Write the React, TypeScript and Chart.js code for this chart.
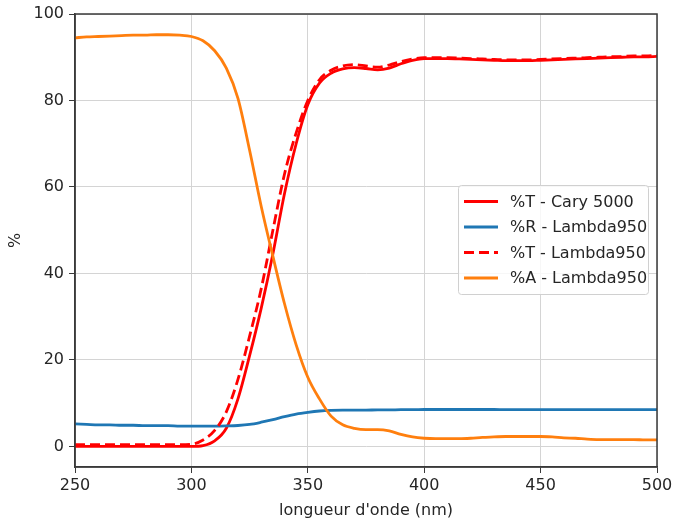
import { useEffect, useRef } from "react";
import { Chart, registerables } from "chart.js";

Chart.register(...registerables);

// wavelengths (nm)
const wavelengths = [
  250, 255, 260, 265, 270, 275, 280, 285, 290, 295,
  300, 305, 310, 315, 320, 325, 330, 335, 340, 345,
  350, 355, 360, 365, 370, 375, 380, 385, 390, 395,
  400, 405, 410, 415, 420, 425, 430, 435, 440, 445,
  450, 455, 460, 465, 470, 475, 480, 485, 490, 495, 500,
];

// %T - Cary 5000
const tCary = [
  0, 0, 0, 0, 0, 0, 0, 0, 0, 0,
  0, 0.2, 1.3, 4.2, 11, 21, 32, 44.5, 58.5, 70,
  79, 84, 86.3, 87.3, 87.6, 87.4, 87.1, 87.5, 88.5, 89.3,
  89.7, 89.7, 89.7, 89.6, 89.5, 89.4, 89.3, 89.2, 89.2, 89.2,
  89.3, 89.4, 89.5, 89.6, 89.7, 89.8, 89.9, 90, 90.1, 90.1, 90.2,
];

// %R - Lambda950
const rLambda = [
  5.2, 5.1, 5.0, 5.0, 4.9, 4.9, 4.8, 4.8, 4.8, 4.7,
  4.7, 4.7, 4.7, 4.75, 4.85, 5.1, 5.6, 6.2, 6.9, 7.5,
  7.9, 8.2, 8.35, 8.4, 8.4, 8.4, 8.45, 8.45, 8.5, 8.5,
  8.55, 8.55, 8.55, 8.55, 8.55, 8.55, 8.55, 8.5, 8.5, 8.5,
  8.5, 8.5, 8.5, 8.5, 8.5, 8.5, 8.5, 8.5, 8.5, 8.5, 8.5,
];

// %T - Lambda950
const tLambda = [
  0.4, 0.4, 0.4, 0.4, 0.4, 0.4, 0.4, 0.4, 0.4, 0.4,
  0.5, 1.5, 3.7, 8, 15.5, 25.5, 36.5, 50, 63, 72.5,
  80, 84.8, 87, 88, 88.3, 88, 87.7, 88.2, 89, 89.6,
  89.9, 89.9, 89.9, 89.8, 89.7, 89.6, 89.5, 89.4, 89.4, 89.4,
  89.5, 89.6, 89.7, 89.8, 89.9, 90, 90.1, 90.2, 90.3, 90.3, 90.4,
];

// %A - Lambda950
const aLambda = [
  94.5, 94.7, 94.8, 94.9, 95, 95.1, 95.1, 95.2, 95.2, 95.1,
  94.8, 93.8, 91.5, 87.5, 80.5, 68.5, 55.5, 44, 33, 23.5,
  16, 11, 7, 5, 4.2, 3.9, 3.9, 3.6, 2.8, 2.2,
  1.9, 1.8, 1.8, 1.8, 1.9, 2.1, 2.2, 2.3, 2.3, 2.3,
  2.3, 2.2, 2.0, 1.9, 1.7, 1.6, 1.6, 1.6, 1.6, 1.5, 1.5,
];

const xTicks = [250, 300, 350, 400, 450, 500];
const yTicks = [0, 20, 40, 60, 80, 100];
const seriesLabels = ["%T - Cary 5000", "%R - Lambda950", "%T - Lambda950", "%A - Lambda950"];
const seriesColors = ["#ff0000", "#1f77b4", "#ff0000", "#ff7f0e"];
const seriesDashed = [false, false, true, false];
const xTitle = "longueur d'onde (nm)";
const yTitle = "%";

const FONT = "'DejaVu Sans', sans-serif";
const FS = 16;
const TEXT = "#262626";
const AXIS = "#3a3a3a";

const framePlugin = {
  id: "frame",
  afterDatasetsDraw(chart: any) {
    const { ctx, chartArea: a } = chart;
    ctx.save();
    ctx.strokeStyle = AXIS;
    ctx.lineWidth = 1.5;
    ctx.strokeRect(a.left, a.top, a.right - a.left, a.bottom - a.top);
    ctx.restore();
  },
};

const legendPlugin = {
  id: "mplLegend",
  afterDraw(chart: any) {
    const { ctx } = chart;
    const x0 = 458, y0 = 185, w = 190, h = 109;
    ctx.save();
    ctx.fillStyle = "rgba(255,255,255,0.8)";
    ctx.strokeStyle = "#d0d0d0";
    ctx.lineWidth = 1;
    ctx.beginPath();
    (ctx as any).roundRect(x0 + 0.5, y0 + 0.5, w, h, 3);
    ctx.fill();
    ctx.stroke();
    ctx.font = `${FS}px ${FONT}`;
    ctx.textBaseline = "middle";
    ctx.textAlign = "left";
    seriesLabels.forEach((label, i) => {
      const y = 201.5 + i * 25.5;
      ctx.strokeStyle = seriesColors[i];
      ctx.lineWidth = 2.8;
      ctx.setLineDash(seriesDashed[i] ? [10, 5] : []);
      ctx.beginPath();
      ctx.moveTo(464, y);
      ctx.lineTo(498, y);
      ctx.stroke();
      ctx.setLineDash([]);
      ctx.fillStyle = TEXT;
      ctx.fillText(label, 510, y + 1);
    });
    ctx.restore();
  },
};

export default function App() {
  const ref = useRef<HTMLCanvasElement>(null);
  useEffect(() => {
    document.body.style.margin = "0";
    const canvas = ref.current!;
    const pts = (ys: number[]) => wavelengths.map((x, i) => ({ x, y: ys[i] }));
    const series = [tCary, rLambda, tLambda, aLambda];
    const chart = new Chart(canvas, {
      type: "line",
      data: {
        datasets: series.map((ys, i) => ({
          label: seriesLabels[i],
          data: pts(ys),
          borderColor: seriesColors[i],
          backgroundColor: seriesColors[i],
          borderWidth: 2.8,
          borderDash: seriesDashed[i] ? [10, 5] : [],
          pointRadius: 0,
          cubicInterpolationMode: "monotone" as const,
          fill: false,
          order: 4 - i,
        })),
      },
      options: {
        responsive: false,
        animation: false,
        events: [],
        layout: { padding: { top: 14, right: 16, left: 0, bottom: 0 } },
        plugins: {
          legend: { display: false },
          tooltip: { enabled: false },
          title: { display: false },
        },
        scales: {
          x: {
            type: "linear",
            min: 250,
            max: 500,
            afterBuildTicks: (s: any) => {
              s.ticks = xTicks.map((v) => ({ value: v }));
            },
            afterFit: (s: any) => {
              s.height = 54;
              s.paddingLeft = 0;
              s.paddingRight = 0;
            },
            ticks: { font: { family: FONT, size: FS }, color: TEXT, padding: 3, maxRotation: 0 },
            grid: { color: "#d4d4d4", lineWidth: 1, tickColor: AXIS, tickLength: 6 },
            border: { color: AXIS, width: 1.5 },
            title: {
              display: true,
              text: xTitle,
              font: { family: FONT, size: FS },
              color: TEXT,
              padding: { top: 0, bottom: 1 },
            },
          },
          y: {
            type: "linear",
            min: -4.75,
            max: 100,
            afterBuildTicks: (s: any) => {
              s.ticks = yTicks.map((v) => ({ value: v }));
            },
            afterFit: (s: any) => {
              s.width = 75;
              s.paddingTop = 0;
              s.paddingBottom = 0;
            },
            ticks: { font: { family: FONT, size: FS }, color: TEXT, padding: 5 },
            grid: { color: "#d4d4d4", lineWidth: 1, tickColor: AXIS, tickLength: 6 },
            border: { color: AXIS, width: 1.5 },
            title: {
              display: true,
              text: yTitle,
              font: { family: FONT, size: FS },
              color: TEXT,
              padding: { top: 6, bottom: 0 },
            },
          },
        },
      },
      plugins: [framePlugin, legendPlugin],
    });
    return () => chart.destroy();
  }, []);
  return (
    <div style={{ position: "absolute", left: 0, top: 0, width: 673, height: 521, background: "#fff" }}>
      <canvas ref={ref} width={673} height={521} style={{ display: "block" }} />
    </div>
  );
}
